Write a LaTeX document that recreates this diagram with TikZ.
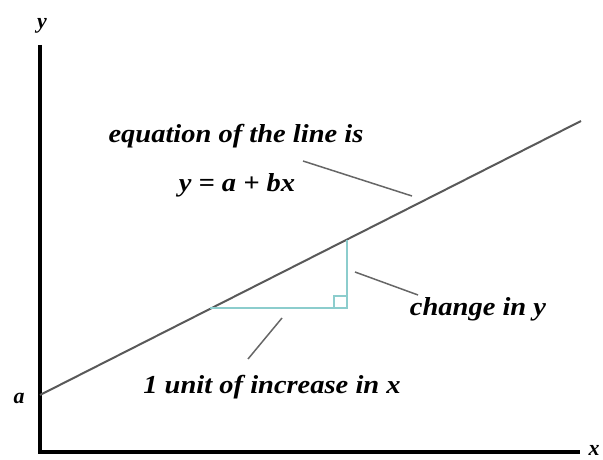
\documentclass[tikz,border=0pt]{standalone}
\usepackage{graphicx}
\usepackage{fontspec}
\setmainfont{Liberation Serif}
\newcommand{\wide}[1]{\scalebox{1.1}[1]{#1}}
\begin{document}
\begin{tikzpicture}[x=1bp,y=-1bp,
  lbl/.style={font=\fontsize{26}{28}\selectfont\bfseries\itshape, inner sep=0pt, anchor=base},
  axlbl/.style={font=\fontsize{22}{24}\selectfont\bfseries\itshape, inner sep=0pt, anchor=base},
  axis/.style={line width=3.5bp, black},
  mainline/.style={line width=2bp, black!65},
  leader/.style={line width=1.5bp, black!60},
  tri/.style={line width=1.6bp, color={rgb,255:red,140;green,205;blue,205}}]
\useasboundingbox (0,0) rectangle (603,460);
% axes
\coordinate (top) at (40,45);
\coordinate (origin) at (40,452);
\coordinate (xend) at (580,452);
\draw[axis] (top) -- (origin) -- (xend);
\node[axlbl] (ylab) at (42,29) {y};
\node[axlbl] (alab) at (19,403) {a};
\node[axlbl] (xlab) at (594,455) {x};
% main line
\coordinate (p0) at (40,395);
\coordinate (p1) at (581,121);
\draw[mainline] (p0) -- (p1);
% triangle
\coordinate (ta) at (210,308);
\coordinate (tb) at (347,308);
\coordinate (tc) at (347,240);
\draw[tri] (ta) -- (tb) -- (tc);
\draw[tri, line width=1.3bp] (334,308) -- (334,296) -- (347,296);
% texts
\node[lbl] (eq1) at (236,143) {\wide{equation of the line is}};
\node[lbl] (eq2) at (237,192) {\wide{y = a + bx}};
\node[lbl] (chg) at (478,315) {\wide{change in y}};
\node[lbl] (unit) at (272,393) {\wide{1 unit of increase in x}};
% leaders
\coordinate (l1a) at (303,161); \coordinate (l1b) at (412,196);
\coordinate (l2a) at (355,272); \coordinate (l2b) at (418,295);
\coordinate (l3a) at (282,318); \coordinate (l3b) at (248,359);
\draw[leader] (l1a) -- (l1b);
\draw[leader] (l2a) -- (l2b);
\draw[leader] (l3a) -- (l3b);
\end{tikzpicture}
\end{document}
